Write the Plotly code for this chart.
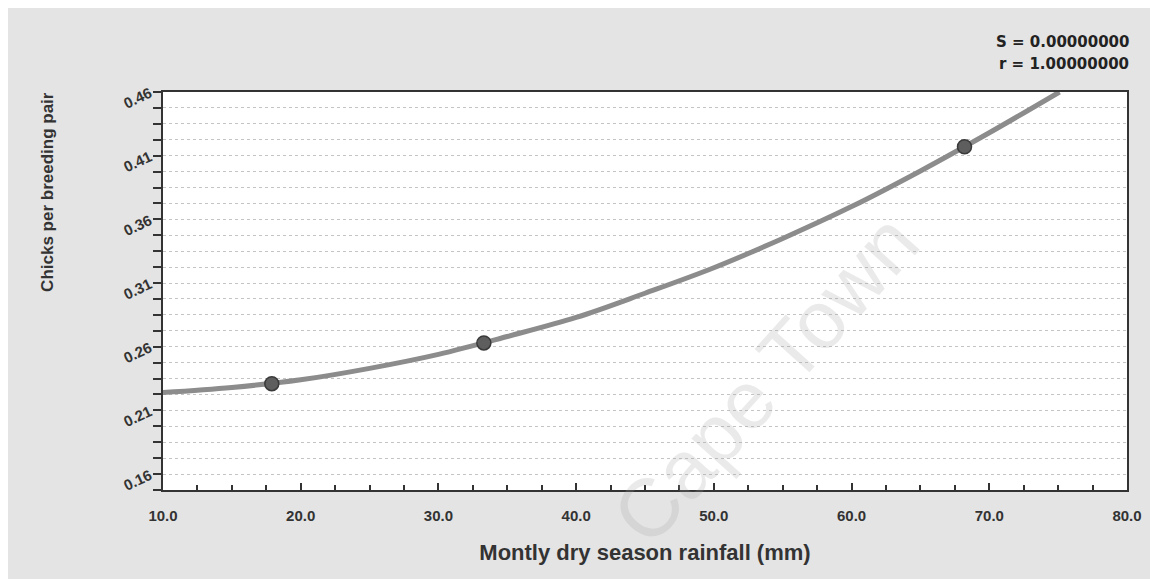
import plotly.graph_objects as go

# Observed data points
rain_pts = [17.9, 33.3, 68.2]
chicks_pts = [0.231, 0.263, 0.417]

# Fitted curve
curve_x = [10, 15, 20, 25, 30, 35, 40, 45, 50, 55, 60, 65, 70, 75.1]
curve_y = [0.224, 0.228, 0.234, 0.243, 0.254, 0.268, 0.283, 0.302, 0.322, 0.345, 0.370, 0.398, 0.428, 0.460]

x_ticks = [10, 20, 30, 40, 50, 60, 70, 80]
x_labels = ["10.0", "20.0", "30.0", "40.0", "50.0", "60.0", "70.0", "80.0"]
y_ticks = [0.16, 0.21, 0.26, 0.31, 0.36, 0.41, 0.46]
y_labels = ["0.16", "0.21", "0.26", "0.31", "0.36", "0.41", "0.46"]

fig = go.Figure()
fig.add_trace(go.Scatter(x=curve_x, y=curve_y, mode="lines", line=dict(color="#8c8c8c", width=5, shape="spline"),
                         showlegend=False, hoverinfo="skip"))
fig.add_trace(go.Scatter(x=rain_pts, y=chicks_pts, mode="markers",
                         marker=dict(size=14, color="#5e5e5e", line=dict(color="#3a3a3a", width=1.5)),
                         showlegend=False))

x_tick_font = dict(family="Liberation Sans, Arial", size=15, color="#333333")
y_tick_font = dict(family="Liberation Sans, Arial", size=15, color="#333333")

fig.update_xaxes(range=[10, 80], tickvals=x_ticks, ticktext=["<b>%s</b>" % t for t in x_labels], tickfont=x_tick_font,
                 showline=True, linecolor="#333333", linewidth=2, mirror=True,
                 ticks="inside", ticklen=7, tickcolor="#333333", tickwidth=2, ticklabelstandoff=11,
                 minor=dict(dtick=2.5, tick0=10, ticks="inside", ticklen=5, tickcolor="#333333", showgrid=False),
                 showgrid=False, zeroline=False,
                 title=dict(text="<b>Montly dry season rainfall (mm)</b>",
                            font=dict(family="Liberation Sans Narrow, Liberation Sans, Arial", size=22, color="#333333"), standoff=22))
fig.update_yaxes(range=[0.1475, 0.46], tickvals=y_ticks, ticktext=["<b>%s</b>" % t for t in y_labels], tickfont=y_tick_font, tickangle=-25,
                 showline=True, linecolor="#333333", linewidth=2, mirror=True,
                 ticks="outside", ticklen=8, tickcolor="#333333", tickwidth=2,
                 showgrid=True, gridcolor="#c4c4c4", griddash="dot", gridwidth=1,
                 minor=dict(dtick=0.0125, tick0=0.16, ticks="outside", ticklen=8, tickcolor="#333333",
                            showgrid=True, gridcolor="#c4c4c4", griddash="dot", gridwidth=1),
                 zeroline=False)

fig.add_annotation(xref="paper", yref="paper", x=0, xshift=-115, y=0.749, xanchor="center", yanchor="middle",
                   text="<b>Chicks per breeding pair</b>", textangle=-90, showarrow=False,
                   font=dict(family="Liberation Sans, Arial", size=17, color="#333333"))
fig.add_annotation(xref="paper", yref="paper", x=1.0, xshift=4, y=1.0, yshift=50, xanchor="right", yanchor="middle",
                   text="<b>S = 0.00000000</b>", align="right", showarrow=False,
                   font=dict(family="DejaVu Sans", size=15, color="#222222"))
fig.add_annotation(xref="paper", yref="paper", x=1.0, xshift=4, y=1.0, yshift=28, xanchor="right", yanchor="middle",
                   text="<b>r = 1.00000000</b>", align="right", showarrow=False,
                   font=dict(family="DejaVu Sans", size=15, color="#222222"))
fig.add_annotation(xref="paper", yref="paper", x=0.625, y=0.28, xanchor="center", yanchor="middle",
                   text="Cape Town", textangle=-48, showarrow=False,
                   font=dict(family="Liberation Sans, Arial", size=82, color="rgba(160,160,160,0.22)"))

fig.update_layout(width=1158, height=579, margin=dict(l=155, r=39, t=84, b=97),
                  paper_bgcolor="#e4e4e4", plot_bgcolor="#ffffff",
                  font=dict(family="Liberation Sans, Arial", color="#333333"))

fig.write_html("out.html")
